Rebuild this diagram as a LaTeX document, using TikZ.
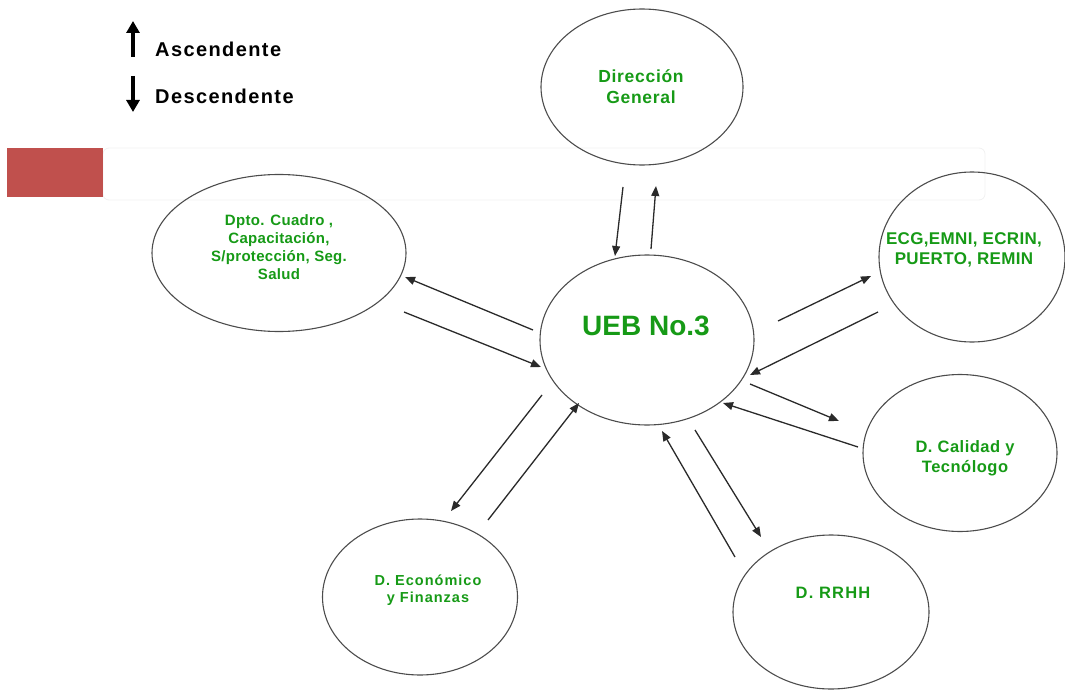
\documentclass[tikz,border=0pt]{standalone}
\usepackage{fontspec}
\setmainfont{Liberation Sans}
\usetikzlibrary{shapes.geometric,arrows.meta}
\definecolor{txtgreen}{HTML}{169A16}
\definecolor{redbox}{HTML}{C0504D}
\definecolor{linegray}{HTML}{2A2A2A}
\newcommand{\lsp}[1]{\addfontfeature{LetterSpace=#1}}
\begin{document}
\begin{tikzpicture}[x=1pt,y=-1pt,
  oval/.style={draw=black!70,line width=1.1pt,ellipse,inner sep=0pt,align=center,
    text=txtgreen,font=\bfseries},
  conn/.style={draw=linegray,line width=1.3pt,-{Triangle[length=10pt,width=8pt]}},
  legarrow/.style={draw=black,line width=3.2pt,-{Triangle[length=12pt,width=13pt]}},
  legtext/.style={anchor=west,inner sep=0pt,font=\fontsize{20}{22}\selectfont\bfseries\lsp{7}}]
\useasboundingbox (0,0) rectangle (1065,690);
% faint frame and red box
\draw[black!6,line width=0.8pt,rounded corners=6pt] (103,148) rectangle (985,200);
\fill[redbox] (7,148) rectangle (103,197);
% legend
\coordinate (a1) at (133,57); \coordinate (a2) at (133,21);
\coordinate (d1) at (133,76); \coordinate (d2) at (133,112);
\draw[legarrow] (a1) -- (a2);
\draw[legarrow] (d1) -- (d2);
\node[legtext] (asc) at (155,49) {Ascendente};
\node[legtext] (desc) at (155,96) {Descendente};
% nodes
\node[oval,minimum width=202pt,minimum height=156pt] (dir) at (642,87) {};
\node[text=txtgreen,align=center,font=\fontsize{17.5}{21}\selectfont\bfseries\lsp{4}] (dirt) at (641,87) {Dirección\\General};
\node[oval,minimum width=254pt,minimum height=157pt] (dpto) at (279,253) {};
\node[text=txtgreen,align=center,font=\fontsize{15}{18}\selectfont\bfseries\lsp{2}] (dptot) at (279,247) {Dpto. Cuadro ,\\Capacitación,\\S/protección, Seg.\\Salud};
\node[oval,minimum width=186pt,minimum height=170pt] (ecg) at (972,257) {};
\node[text=txtgreen,align=center,font=\fontsize{17}{20}\selectfont\bfseries\lsp{2}] (ecgt) at (964,250) {ECG,EMNI, ECRIN,\\PUERTO, REMIN};
\node[oval,minimum width=214pt,minimum height=170pt] (ueb) at (647,340) {};
\node[text=txtgreen,font=\fontsize{28}{32}\selectfont\bfseries] (uebt) at (646,326) {UEB No.3};
\node[oval,minimum width=194pt,minimum height=157pt] (cal) at (960,453) {};
\node[text=txtgreen,align=center,font=\fontsize{16.5}{20}\selectfont\bfseries\lsp{3}] (calt) at (965,458) {D. Calidad y\\Tecnólogo};
\node[oval,minimum width=195pt,minimum height=156pt] (eco) at (420,597) {};
\node[text=txtgreen,align=center,font=\fontsize{14.5}{17}\selectfont\bfseries\lsp{7}] (ecot) at (428,590) {D. Económico\\y Finanzas};
\node[oval,minimum width=196pt,minimum height=154pt] (rrhh) at (831,612) {};
\node[text=txtgreen,font=\fontsize{16.5}{19}\selectfont\bfseries\lsp{7}] (rrhht) at (833,593) {D. RRHH};
% connector end points
\coordinate (p1a) at (623,187); \coordinate (p1b) at (615,256);
\coordinate (p2a) at (651,249); \coordinate (p2b) at (656,186);
\coordinate (p3a) at (533,330); \coordinate (p3b) at (405,277);
\coordinate (p4a) at (404,312); \coordinate (p4b) at (541,367);
\coordinate (p5a) at (778,321); \coordinate (p5b) at (871,276);
\coordinate (p6a) at (878,312); \coordinate (p6b) at (750,375);
\coordinate (p7a) at (750,384); \coordinate (p7b) at (839,421);
\coordinate (p8a) at (858,447); \coordinate (p8b) at (723,403);
\coordinate (p9a) at (695,430); \coordinate (p9b) at (761,537);
\coordinate (p10a) at (735,557); \coordinate (p10b) at (662,431);
\coordinate (p11a) at (542,395); \coordinate (p11b) at (451,511);
\coordinate (p12a) at (488,520); \coordinate (p12b) at (579,403);
\draw[conn] (p1a) -- (p1b);
\draw[conn] (p2a) -- (p2b);
\draw[conn] (p3a) -- (p3b);
\draw[conn] (p4a) -- (p4b);
\draw[conn] (p5a) -- (p5b);
\draw[conn] (p6a) -- (p6b);
\draw[conn] (p7a) -- (p7b);
\draw[conn] (p8a) -- (p8b);
\draw[conn] (p9a) -- (p9b);
\draw[conn] (p10a) -- (p10b);
\draw[conn] (p11a) -- (p11b);
\draw[conn] (p12a) -- (p12b);
\end{tikzpicture}
\end{document}
